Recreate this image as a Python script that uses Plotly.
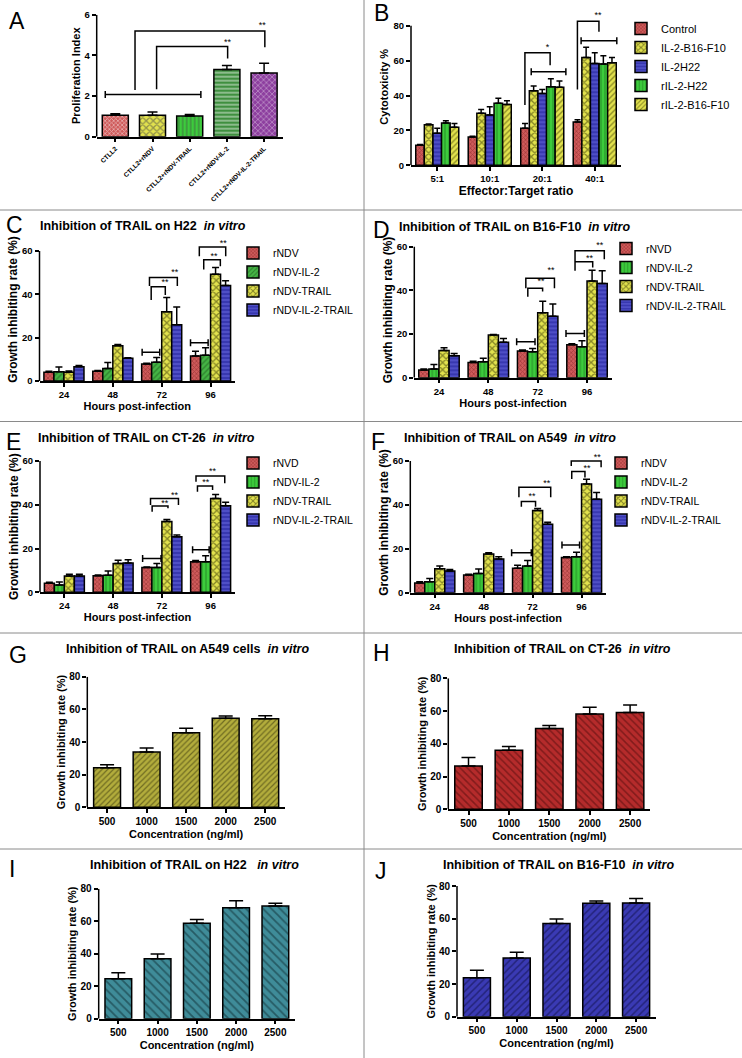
import plotly.graph_objects as go

W, H = 742, 1058
FONT = "Liberation Sans, Arial, Helvetica, sans-serif"

# ---------------- data ----------------
A_groups = ["CTLL2", "CTLL2+rNDV", "CTLL2+rNDV-TRAIL", "CTLL2+rNDV-IL-2", "CTLL2+rNDV-IL-2-TRAIL"]
A_values = [1.05, 1.05, 1.02, 3.31, 3.13]
A_errors = [0.08, 0.17, 0.07, 0.19, 0.48]

B_ratios = ["5:1", "10:1", "20:1", "40:1"]
B_names = ["Control", "IL-2-B16-F10", "IL-2H22", "rIL-2-H22", "rIL-2-B16-F10"]
B_control = [11.5, 16.2, 21.2, 24.8]
B_il2_b16 = [23.2, 29.8, 42.7, 61.8]
B_il2_h22 = [18.3, 28.8, 41.2, 58.4]
B_ril2_h22 = [24.2, 35.5, 45.0, 58.0]
B_ril2_b16 = [21.8, 34.9, 44.7, 58.8]
B_control_err = [0.4, 0.4, 2.8, 1.3]
B_il2_b16_err = [0.5, 2.2, 2.8, 5.8]
B_il2_h22_err = [2.9, 4.8, 2.3, 6.1]
B_ril2_h22_err = [1.4, 2.9, 4.6, 4.8]
B_ril2_b16_err = [2.2, 2.1, 3.6, 3.0]

hours = ["24", "48", "72", "96"]

C_names = ["rNDV", "rNDV-IL-2", "rNDV-TRAIL", "rNDV-IL-2-TRAIL"]
C_rndv = [4.0, 4.5, 7.8, 11.5]
C_il2 = [4.3, 5.8, 8.6, 11.9]
C_trail = [4.0, 16.3, 32.0, 49.3]
C_il2_trail = [6.6, 10.5, 26.0, 44.1]
C_rndv_err = [0.5, 0.4, 0.4, 2.2]
C_il2_err = [2.2, 2.7, 2.3, 3.4]
C_trail_err = [0.6, 0.6, 6.5, 3.1]
C_il2_trail_err = [0.5, 0.2, 8.2, 2.2]

D_names = ["rNVD", "rNDV-IL-2", "rNDV-TRAIL", "rNDV-IL-2-TRAIL"]
D_rnvd = [3.5, 7.0, 12.2, 15.1]
D_il2 = [4.0, 7.3, 11.9, 14.2]
D_trail = [12.5, 19.5, 29.8, 44.3]
D_il2_trail = [10.1, 16.2, 28.2, 43.2]
D_rnvd_err = [0.5, 0.5, 0.5, 0.5]
D_il2_err = [2.1, 1.6, 1.5, 2.7]
D_trail_err = [1.2, 0.3, 5.2, 4.9]
D_il2_trail_err = [1.0, 1.7, 5.5, 5.8]

E_names = ["rNVD", "rNDV-IL-2", "rNDV-TRAIL", "rNDV-IL-2-TRAIL"]
E_rnvd = [4.1, 7.6, 11.3, 14.0]
E_il2 = [3.3, 7.8, 11.3, 14.0]
E_trail = [7.5, 13.2, 32.4, 42.9]
E_il2_trail = [7.5, 13.4, 25.4, 39.6]
E_rnvd_err = [0.5, 0.3, 0.3, 0.5]
E_il2_err = [1.4, 1.9, 1.9, 2.7]
E_trail_err = [0.7, 1.4, 0.9, 1.8]
E_il2_trail_err = [0.7, 1.5, 0.8, 1.6]

F_names = ["rNDV", "rNDV-IL-2", "rNDV-TRAIL", "rNDV-IL-2-TRAIL"]
F_rndv = [4.4, 8.1, 11.1, 16.0]
F_il2 = [5.0, 8.8, 12.2, 16.4]
F_trail = [10.9, 17.6, 37.4, 49.5]
F_il2_trail = [9.9, 15.3, 31.2, 42.6]
F_rndv_err = [0.6, 0.3, 1.4, 0.4]
F_il2_err = [1.5, 2.0, 2.5, 2.0]
F_trail_err = [1.3, 0.6, 1.0, 2.2]
F_il2_trail_err = [0.7, 1.1, 0.9, 3.1]

conc = ["500", "1000", "1500", "2000", "2500"]
G_values = [24.3, 33.9, 45.7, 54.5, 54.3]
G_errors = [1.8, 2.4, 2.7, 1.4, 1.8]
H_values = [26.5, 36.0, 49.3, 58.2, 59.1]
H_errors = [5.1, 2.3, 1.8, 4.1, 4.6]
I_values = [24.6, 36.9, 58.7, 68.3, 69.3]
I_errors = [3.7, 2.9, 2.4, 4.3, 1.7]
J_values = [23.9, 35.9, 57.1, 69.4, 69.6]
J_errors = [4.5, 3.5, 2.7, 1.4, 2.8]

# significance marks: U-brackets (x_left, x_right, y_top, y_left_end, y_right_end),
# capped lines (x0, x1, y), stars (x, y, text)
A_brackets = [(0.53, 4.02, 5.2, 2.3, 4.4), (1.11, 3.02, 4.43, 2.33, 3.85)]
A_caplines = [(-0.27, 2.30, 2.07)]
A_stars = [(3.95, 5.45, "**"), (3.02, 4.62, "**")]

B_brackets = [(1.67, 2.15, 64.5, 34.5, 57.4), (2.67, 3.08, 82.6, 43.5, 76.5)]
B_caplines = [(1.79, 2.45, 53.6), (2.74, 3.42, 71.4)]
B_stars = [(2.10, 67.5, "*"), (3.06, 85.5, "**")]

C_brackets = [(1.785, 2.074, 43.5, 37.4, 39.7), (1.75, 2.32, 47.8, 43.8, 43.8),
              (2.86, 3.2, 56.0, 51.5, 53.0), (2.77, 3.31, 61.8, 57.6, 57.6)]
C_caplines = [(1.6, 1.96, 13.3), (2.59, 2.95, 17.6)]
C_stars = [(2.07, 45.3, "**"), (2.27, 50.0, "**"), (3.07, 57.4, "**"), (3.26, 63.4, "**")]

D_brackets = [(1.8, 2.1, 41.0, 37.1, 39.5), (1.76, 2.34, 45.5, 41.0, 41.0),
              (2.757, 3.115, 53.1, 49.0, 50.5), (2.757, 3.35, 58.2, 53.5, 54.2)]
D_caplines = [(1.574, 1.946, 16.5), (2.574, 2.946, 20.3)]
D_stars = [(2.07, 43.8, "**"), (2.27, 49.1, "**"), (3.05, 54.4, "**"), (3.26, 60.3, "**")]

E_brackets = [(1.8, 2.125, 39.4, 36.8, 38.4), (1.767, 2.34, 42.9, 39.9, 39.9),
              (2.73, 3.04, 48.6, 46.0, 46.7), (2.70, 3.29, 53.1, 50.5, 49.8)]
E_caplines = [(1.605, 1.983, 15.4), (2.63, 2.97, 19.4)]
E_stars = [(2.06, 40.6, "**"), (2.26, 44.2, "**"), (2.90, 50.2, "**"), (3.04, 55.3, "**")]

F_brackets = [(1.77, 2.06, 41.5, 39.2, 39.2), (1.72, 2.37, 48.0, 43.5, 43.5),
              (2.80, 3.07, 55.2, 51.8, 52.5), (2.79, 3.40, 60.0, 57.7, 57.1)]
F_caplines = [(1.571, 1.973, 18.2), (2.6, 2.96, 21.7)]
F_stars = [(1.99, 43.8, "**"), (2.29, 49.5, "**"), (3.11, 56.4, "**"), (3.32, 61.4, "**")]

# ---------------- styles ----------------
PAT = {
    "red": dict(bg="#cf5b5b", fg="#7a1c1c", shape="x", size=3, solidity=0.45),
    "ychk": dict(bg="#e2e24e", fg="#2a2a00", shape="x", size=5, solidity=0.45),
    "gdiag": dict(bg="#45b545", fg="#1a4f1a", shape="/", size=4, solidity=0.35),
    "gvert": dict(bg="#3ccc3c", fg="#1f6f1f", shape="|", size=4, solidity=0.35),
    "bhor": dict(bg="#3838b0", fg="#6b6be0", shape="-", size=4, solidity=0.45),
    "ghor": dict(bg="#3f8f3f", fg="#205a20", shape="-", size=4, solidity=0.4),
    "purple": dict(bg="#8d3f9f", fg="#5e2470", shape="x", size=4, solidity=0.3),
    "ydiag": dict(bg="#e2e24e", fg="#3a3a00", shape="/", size=4, solidity=0.35),
    "olive": dict(bg="#b3ad3c", fg="#2d2b08", shape="/", size=4, solidity=0.3),
    "dred": dict(bg="#b52b2b", fg="#4d0b0b", shape="\\", size=5, solidity=0.3),
    "teal": dict(bg="#3f8c99", fg="#0d2a30", shape="\\", size=6, solidity=0.3),
    "bdiag": dict(bg="#3a3ab4", fg="#0c0c40", shape="/", size=5, solidity=0.3),
}


def marker_of(keys):
    if isinstance(keys, str):
        p = PAT[keys]
        return dict(color=p["bg"], line=dict(color="black", width=1.5),
                    pattern=dict(shape=p["shape"], fgcolor=p["fg"], bgcolor=p["bg"],
                                 size=p["size"], solidity=p["solidity"]))
    ps = [PAT[k] for k in keys]
    return dict(color=[p["bg"] for p in ps], line=dict(color="black", width=1.5),
                pattern=dict(shape=[p["shape"] for p in ps], fgcolor=[p["fg"] for p in ps],
                             bgcolor=[p["bg"] for p in ps], size=[p["size"] for p in ps],
                             solidity=[p["solidity"] for p in ps]))


def sid(n):
    return "" if n == 1 else str(n)


fig = go.Figure()
layout = dict(width=W, height=H, margin=dict(l=0, r=0, t=0, b=0), autosize=False,
              paper_bgcolor="white", plot_bgcolor="rgba(0,0,0,0)",
              barmode="group", bargap=0.18, bargroupgap=0,
              font=dict(family=FONT, color="black"), showlegend=True)
shapes = []
annotations = []
CAP_PX = 3.5


def setup_axes(n, xpx, zero_px, tick_px, tickmax, rmax, dtick, ticktext, xtitle, ytitle,
               tickfs, ytitlefs, xtitlefs, xtickangle=0, xtickfs=None, ystandoff=3, xstandoff=3):
    ppu = (zero_px - tick_px) / tickmax
    top_px = zero_px - rmax * ppu
    s = sid(n)
    ncat = len(ticktext)
    xa = dict(domain=[xpx[0] / W, xpx[1] / W], anchor="y" + s, range=[-0.5, ncat - 0.5],
              tickmode="array", tickvals=list(range(ncat)), ticktext=ticktext, tickangle=xtickangle,
              showline=True, linecolor="black", linewidth=1.5, ticks="outside", ticklen=4,
              tickwidth=1.5, tickcolor="black", showgrid=False, zeroline=False, automargin=False,
              tickfont=dict(size=xtickfs or tickfs, family=FONT, weight="bold", color="black"))
    if xtitle:
        xa["title"] = dict(text=xtitle, font=dict(size=xtitlefs, family=FONT, weight="bold"),
                           standoff=xstandoff)
    ya = dict(domain=[1 - zero_px / H, 1 - top_px / H], anchor="x" + s, range=[0, rmax],
              tickmode="array", tickvals=list(range(0, tickmax + 1, dtick)),
              showline=False, ticks="outside", ticklen=4, tickwidth=1.5, tickcolor="black",
              showgrid=False, zeroline=False, automargin=False,
              tickfont=dict(size=tickfs, family=FONT, weight="bold", color="black"),
              title=dict(text=ytitle, font=dict(size=ytitlefs, family=FONT, weight="bold"),
                         standoff=ystandoff))
    layout["xaxis" + s] = xa
    layout["yaxis" + s] = ya
    shapes.append(dict(type="line", xref="x" + s + " domain", yref="y" + s, x0=0, x1=0,
                       y0=0, y1=tickmax, line=dict(color="black", width=1.5)))
    return ppu


def add_marks(n, ppu, brackets, caplines, stars, starfs=9):
    s = sid(n)
    xs, ys = [], []
    for xl, xr, yt, yl, yr in brackets:
        xs += [xl, xl, xr, xr, None]
        ys += [yl, yt, yt, yr, None]
    c = CAP_PX / ppu
    for x0, x1, y in caplines:
        xs += [x0, x0, None, x0, x1, None, x1, x1, None]
        ys += [y - c, y + c, None, y, y, None, y - c, y + c, None]
    fig.add_trace(go.Scatter(x=xs, y=ys, mode="lines", line=dict(color="black", width=1.5),
                             showlegend=False, hoverinfo="skip", xaxis="x" + s, yaxis="y" + s,
                             cliponaxis=False))
    fig.add_trace(go.Scatter(x=[t[0] for t in stars], y=[t[1] for t in stars],
                             text=[t[2] for t in stars], mode="text",
                             textfont=dict(size=starfs, family=FONT, color="black"),
                             textposition="middle center", showlegend=False, hoverinfo="skip",
                             xaxis="x" + s, yaxis="y" + s, cliponaxis=False))


def add_group(n, names, series, errs, keys, legend, capw=3.5):
    s = sid(n)
    for name, vals, er, k in zip(names, series, errs, keys):
        fig.add_trace(go.Bar(x=list(range(len(vals))), y=vals, name=name, marker=marker_of(k),
                             error_y=dict(type="data", symmetric=False, array=er,
                                          arrayminus=[0] * len(er), color="black",
                                          thickness=1.5, width=capw),
                             xaxis="x" + s, yaxis="y" + s, legend=legend))


def add_single(n, vals, er, keys, width, capw):
    s = sid(n)
    fig.add_trace(go.Bar(x=list(range(len(vals))), y=vals, marker=marker_of(keys), width=width,
                         error_y=dict(type="data", symmetric=False, array=er,
                                      arrayminus=[0] * len(er), color="black",
                                      thickness=1.5, width=capw),
                         xaxis="x" + s, yaxis="y" + s, showlegend=False))


YT = "Growth inhibiting rate (%)"

# ---- A ----
ppu = setup_axes(1, (96.7, 282.7), 136.7, 14.7, 6, 6, 2, A_groups, None, "Proliferation Index",
                 9.5, 11, 10, xtickangle=-45, xtickfs=6.5, ystandoff=1)
add_single(1, A_values, A_errors, ["red", "ychk", "gvert", "ghor", "purple"], 0.7, 5)
add_marks(1, ppu, A_brackets, A_caplines, A_stars)

# ---- B ----
ppu = setup_axes(2, (411, 621), 165.3, 25.7, 80, 90, 20, B_ratios, "Effector:Target ratio",
                 "Cytotoxicity %", 9.5, 11, 12, ystandoff=2, xstandoff=3)
add_group(2, B_names, [B_control, B_il2_b16, B_il2_h22, B_ril2_h22, B_ril2_b16],
          [B_control_err, B_il2_b16_err, B_il2_h22_err, B_ril2_h22_err, B_ril2_b16_err],
          ["red", "ychk", "bhor", "gvert", "ydiag"], "legend", capw=3)
add_marks(2, ppu, B_brackets, B_caplines, B_stars)

# ---- C ----
ppu = setup_axes(3, (39.5, 235), 381, 251, 60, 66, 20, hours, "Hours post-infection", YT,
                 9.5, 12, 11, ystandoff=1, xstandoff=3)
add_group(3, C_names, [C_rndv, C_il2, C_trail, C_il2_trail],
          [C_rndv_err, C_il2_err, C_trail_err, C_il2_trail_err],
          ["red", "gdiag", "ychk", "bhor"], "legend2")
add_marks(3, ppu, C_brackets, C_caplines, C_stars)

# ---- D ----
ppu = setup_axes(4, (414.3, 611.7), 377.7, 246.7, 60, 62, 20, hours, "Hours post-infection", YT,
                 9.5, 12, 11, ystandoff=1, xstandoff=3)
add_group(4, D_names, [D_rnvd, D_il2, D_trail, D_il2_trail],
          [D_rnvd_err, D_il2_err, D_trail_err, D_il2_trail_err],
          ["red", "gvert", "ychk", "bhor"], "legend3")
add_marks(4, ppu, D_brackets, D_caplines, D_stars)

# ---- E ----
ppu = setup_axes(5, (40, 235), 592.3, 461, 60, 60, 20, hours, "Hours post-infection", YT,
                 9.5, 12, 11, ystandoff=1, xstandoff=3)
add_group(5, E_names, [E_rnvd, E_il2, E_trail, E_il2_trail],
          [E_rnvd_err, E_il2_err, E_trail_err, E_il2_trail_err],
          ["red", "gvert", "ychk", "bhor"], "legend4")
add_marks(5, ppu, E_brackets, E_caplines, E_stars)

# ---- F ----
ppu = setup_axes(6, (410.3, 606), 592.7, 461, 60, 64, 20, hours, "Hours post-infection", YT,
                 9.5, 12, 11, ystandoff=1, xstandoff=3)
add_group(6, F_names, [F_rndv, F_il2, F_trail, F_il2_trail],
          [F_rndv_err, F_il2_err, F_trail_err, F_il2_trail_err],
          ["red", "gvert", "ychk", "bhor"], "legend5")
add_marks(6, ppu, F_brackets, F_caplines, F_stars)

# ---- G-J ----
CT = "Concentration (ng/ml)"
setup_axes(7, (87.3, 285), 807.3, 676.7, 80, 80, 20, conc, CT, YT, 10, 11, 11, ystandoff=1, xstandoff=4)
add_single(7, G_values, G_errors, "olive", 0.68, 7)
setup_axes(8, (448.3, 650.3), 809.3, 678.3, 80, 80, 20, conc, CT, YT, 10, 11, 11, ystandoff=1, xstandoff=4)
add_single(8, H_values, H_errors, "dred", 0.68, 7)
setup_axes(9, (98.7, 295), 1018.7, 888.7, 80, 80, 20, conc, CT, YT, 10, 11, 11, ystandoff=1, xstandoff=4)
add_single(9, I_values, I_errors, "teal", 0.68, 7)
setup_axes(10, (457, 656), 1016.7, 886, 80, 80, 20, conc, CT, YT, 10, 11, 11, ystandoff=1, xstandoff=4)
add_single(10, J_values, J_errors, "bdiag", 0.68, 7)

# ---- titles and panel letters ----
NB = "\u00a0"
titles = [
    ("Inhibition of TRAIL on H22 " + NB, 38.3, 225.7, "left"),
    ("Inhibition of TRAIL on B16-F10 " + NB, 397, 226.7, "left"),
    ("Inhibition of TRAIL on CT-26 " + NB, 35.7, 437.7, "left"),
    ("Inhibition of TRAIL on A549 " + NB, 401.7, 437.7, "left"),
    ("Inhibition of TRAIL on A549 cells " + NB, 187.7, 649.3, "center"),
    ("Inhibition of TRAIL on CT-26 " + NB, 562, 649.3, "center"),
    ("Inhibition of TRAIL on H22 " + NB + NB, 195, 865, "center"),
    ("Inhibition of TRAIL on B16-F10 " + NB, 558.3, 865, "center"),
]
for txt, x, y, anc in titles:
    annotations.append(dict(text="<b>" + txt + "<i>in vitro</i></b>", x=x / W, y=1 - y / H,
                            xref="paper", yref="paper", xanchor=anc, yanchor="middle",
                            showarrow=False, font=dict(size=12.5, family=FONT, color="black")))

letters = [("A", 17, 21), ("B", 381, 13), ("C", 15, 225), ("D", 381, 230), ("E", 13, 442),
           ("F", 378, 442), ("G", 18, 655), ("H", 381, 653), ("I", 12, 869), ("J", 381, 871)]
for t, x, y in letters:
    annotations.append(dict(text=t, x=x / W, y=1 - y / H, xref="paper", yref="paper",
                            xanchor="center", yanchor="middle", showarrow=False,
                            font=dict(size=23, family=FONT, color="black")))

# ---- panel dividers ----
shapes.append(dict(type="line", xref="paper", yref="paper", x0=364 / W, x1=364 / W, y0=0, y1=1,
                   line=dict(color="#8a8a8a", width=1)))
for yy in [210, 421.5, 633, 849]:
    shapes.append(dict(type="line", xref="paper", yref="paper", x0=0, x1=1, y0=1 - yy / H,
                       y1=1 - yy / H, line=dict(color="#8a8a8a", width=1)))

# ---- legends ----
def leg(x, y, fs):
    return dict(x=x / W, y=1 - y / H, xanchor="left", yanchor="top", bgcolor="rgba(0,0,0,0)",
                font=dict(size=fs, family=FONT, color="black"), tracegroupgap=0,
                itemclick=False, itemdoubleclick=False)

layout["legend"] = leg(621, 14, 11)
layout["legend2"] = leg(233, 238.5, 10.5)
layout["legend3"] = leg(606, 234, 10.5)
layout["legend4"] = leg(233, 448.5, 10.5)
layout["legend5"] = leg(601, 448.5, 10.5)

layout["shapes"] = shapes
layout["annotations"] = annotations
fig.update_layout(**layout)
fig.write_html("out.html", config={"displayModeBar": False},
               post_script="document.body.style.margin='0';")
